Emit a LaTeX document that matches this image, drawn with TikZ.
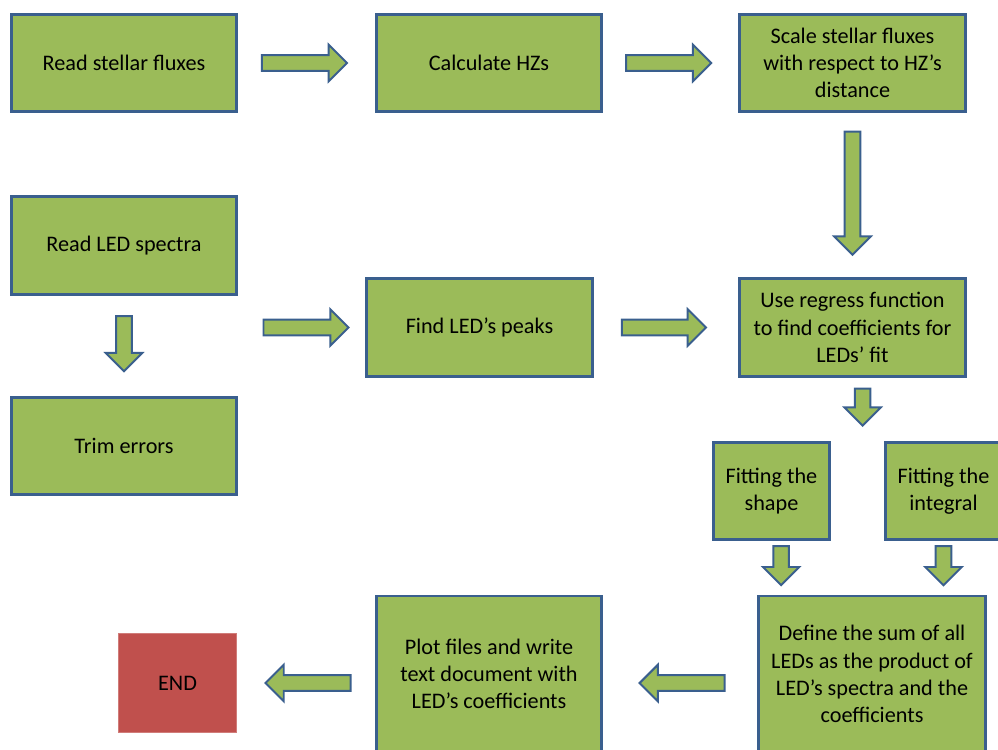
\documentclass[tikz,border=0pt]{standalone}
\usepackage{fontspec}
\setmainfont{Carlito}
\usetikzlibrary{positioning,shapes.arrows,calc}
\definecolor{leaf}{HTML}{9BBB59}
\definecolor{edge}{HTML}{3A5F8E}
\definecolor{halt}{HTML}{C0504D}

\begin{document}
\begin{tikzpicture}[
  x=0.025cm, y=-0.025cm,
  box/.style={draw=edge, fill=leaf, line width=2pt, minimum width=5.63cm,
              minimum height=2.43cm, align=center, inner sep=2pt,
              font=\fontsize{15.8}{19.3}\selectfont},
  sbox/.style={box, minimum width=2.9cm},
  arr/.style={single arrow, draw=edge, fill=leaf, line width=1.4pt,
              inner xsep=0pt, inner ysep=0.17cm, minimum width=0.88cm,
              single arrow head extend=0.26cm, single arrow head indent=0pt,
              rotate=#1, xshift=-0.15cm},
  arr/.default=0
]
  \clip (0,0) rectangle (998,749);

  % top row: stellar fluxes
  \node[box] (stellar) at (124,63) {Read stellar fluxes};
  \node[box] (hz) at (489,63) {Calculate HZs};
  \node[box] (scale) at (852.5,63) {Scale stellar fluxes\\with respect to HZ’s\\distance};

  % LED spectra
  \node[box] (ledspec) at (124,245.5) {Read LED spectra};
  \node[box] (trim) at (124,446) {Trim errors};
  \node[box] (peaks) at (479.5,327.5) {Find LED’s peaks};
  \node[box] (regress) at (852.5,327.5) {Use regress function\\to find coefficients for\\LEDs’ fit};

  % fitting
  \node[sbox] (shape) at (771.5,491) {Fitting the\\shape};
  \node[sbox] (integral) at (943.5,491) {Fitting the\\integral};
  \coordinate (split) at ($(shape.north)!0.53!(integral.north)$);

  % bottom row
  \node[box, minimum width=5.68cm, minimum height=3.9cm] (define) at (872,674)
    {Define the sum of all\\LEDs as the product of\\LED’s spectra and the\\coefficients};
  \node[box, minimum height=3.9cm] (plot) at (489,674)
    {Plot files and write\\text document with\\LED’s coefficients};
  \node[box, fill=halt, draw=halt!75!white, line width=0.6pt,
        minimum width=2.95cm, minimum height=2.48cm] (end) at (177.5,683) {END};

  % block arrows
  \path (stellar) -- node[arr, minimum height=2.125cm] {} (hz);
  \path (hz) -- node[arr, minimum height=2.125cm] {} (scale);
  \path (scale) -- node[arr=-90, minimum height=3.075cm] {} (regress);
  \path (ledspec) -- node[arr=-90, minimum height=1.375cm] {} (trim);
  \path (ledspec.east |- peaks) -- node[arr, pos=0.55, minimum height=2.125cm] {} (peaks.west);
  \path (peaks) -- node[arr, minimum height=2.1cm] {} (regress);
  \path (regress.south -| split) -- node[arr=-90, minimum height=0.925cm] {} (split);
  \path ([xshift=0.24cm]shape.south) -- node[arr=-90, minimum height=0.975cm] {}
    ([xshift=0.24cm]shape.south |- define.north);
  \path (integral.south) -- node[arr=-90, minimum height=0.975cm] {}
    (integral.south |- define.north);
  \path (define.west |- end) -- node[arr=180, minimum height=2.125cm] {} (plot.east |- end);
  \path (plot.west |- end) -- node[arr=180, minimum height=2.125cm] {} (end.east);
\end{tikzpicture}
\end{document}
